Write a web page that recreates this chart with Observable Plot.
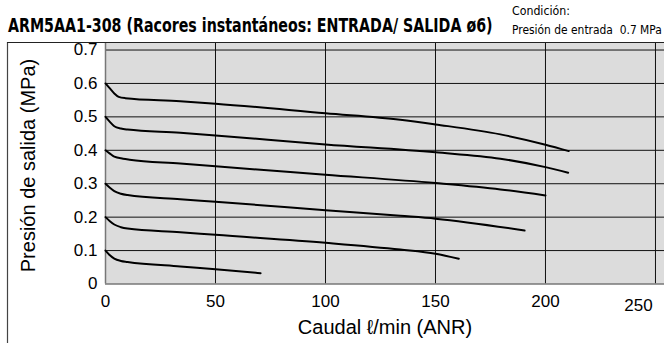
<!DOCTYPE html>
<html>
<head>
<meta charset="utf-8">
<script src="https://cdn.jsdelivr.net/npm/d3@7"></script>
<script src="https://cdn.jsdelivr.net/npm/@observablehq/plot@0.6"></script>
<style>
  html, body { margin: 0; padding: 0; background: #fff; }
  #wrap { position: relative; width: 664px; height: 343px; overflow: hidden; }
</style>
</head>
<body>
<div id="wrap"></div>
<script>
// ---- data ----
const title = "ARM5AA1-308 (Racores instantáneos: ENTRADA/ SALIDA ø6)";
const conditionLines = ["Condición:", "Presión de entrada  0.7 MPa"];
const xLabel = "Caudal ℓ/min (ANR)";
const yLabel = "Presión de salida (MPa)";
const xTicks = [0, 50, 100, 150, 200];
const xTickLast = [250];
const xGrid = [50, 100, 150, 200, 250];
const yTicks = [0, 0.1, 0.2, 0.3, 0.4, 0.5, 0.6, 0.7];
const yGrid = [0.1, 0.2, 0.3, 0.4, 0.5, 0.6, 0.7];

const q06 = [0, 2, 4, 6, 9, 34, 50, 100, 134, 150, 179.5, 200, 210.6];
const p06 = [0.6, 0.585, 0.57, 0.56, 0.556, 0.547, 0.5395, 0.511, 0.4916, 0.4775, 0.4476, 0.4168, 0.3976];
const q05 = [0, 2, 4, 7, 10, 34, 50, 100, 150, 179.5, 200, 210.3];
const p05 = [0.5, 0.485, 0.472, 0.465, 0.462, 0.4527, 0.4446, 0.4177, 0.394, 0.3749, 0.3497, 0.333];
const q04 = [0, 2, 4, 8, 11, 34, 50, 100, 150, 179.5, 200];
const p04 = [0.4, 0.39, 0.381, 0.375, 0.372, 0.3605, 0.352, 0.327, 0.302, 0.283, 0.265];
const q03 = [0, 2, 4, 7, 10, 34, 50, 100, 134, 150, 190.5];
const p03 = [0.3, 0.288, 0.278, 0.27, 0.266, 0.2535, 0.246, 0.221, 0.204, 0.1955, 0.16];
const q02 = [0, 2, 4, 7, 10, 34, 50, 100, 134, 150, 160.6];
const p02 = [0.2, 0.188, 0.178, 0.17, 0.166, 0.155, 0.147, 0.1234, 0.103, 0.0904, 0.0755];
const q01 = [0, 2, 4, 7, 10, 34, 50, 70.5];
const p01 = [0.1, 0.086, 0.076, 0.069, 0.066, 0.0524, 0.0443, 0.0323];

const series = [
  {set: "0.6", q: q06, p: p06},
  {set: "0.5", q: q05, p: p05},
  {set: "0.4", q: q04, p: p04},
  {set: "0.3", q: q03, p: p03},
  {set: "0.2", q: q02, p: p02},
  {set: "0.1", q: q01, p: p01}
];
const rows = series.flatMap(s => s.q.map((q, i) => ({set: s.set, q, p: s.p[i]})));

const W = 664, H = 343;
const chart = Plot.plot({
  width: W,
  height: H,
  marginLeft: 105,
  marginRight: 0,
  marginTop: 42,
  marginBottom: 59.5,
  style: {fontFamily: "'Liberation Sans', Arial, sans-serif", fontSize: "17px", background: "transparent", color: "#000"},
  x: {domain: [0, 254.1], label: null},
  y: {domain: [0, 0.7225], label: null},
  marks: [
    Plot.frame({fill: "#dcdcdc", stroke: null}),
    Plot.ruleY(yGrid, {stroke: "#111", strokeWidth: 1}),
    Plot.ruleX(xGrid, {stroke: "#111", strokeWidth: 1}),
    Plot.ruleY([0], {stroke: "#777", strokeWidth: 1.5}),
    Plot.ruleX([0], {stroke: "#777", strokeWidth: 1.5}),
    Plot.line(rows, {x: "q", y: "p", z: "set", stroke: "#000", strokeWidth: 2, curve: "monotone-x"}),
    Plot.axisX(xTicks, {tickSize: 0, tickPadding: 11, fontSize: 17, label: null}),
    Plot.text(xTickLast, {x: d => d, frameAnchor: "bottom", dx: -17, dy: 22, fontSize: 17, textAnchor: "middle", lineAnchor: "middle"}),
    Plot.axisY(yTicks, {tickSize: 0, tickPadding: 8, fontSize: 17, label: null, tickFormat: d => d === 0 ? "0" : d3.format(".1f")(d)})
  ]
});
document.getElementById("wrap").appendChild(chart);

const svg = d3.select(chart);
const narrow = "'Liberation Sans Narrow', 'DejaVu Sans Condensed', 'Liberation Sans', Arial, sans-serif";
// outer box (left + top)
svg.append("line").attr("x1", 7.5).attr("x2", 7.5).attr("y1", 42).attr("y2", H).attr("stroke", "#444").attr("stroke-width", 1.2);
svg.append("line").attr("x1", 7).attr("x2", W).attr("y1", 42.5).attr("y2", 42.5).attr("stroke", "#222").attr("stroke-width", 1.2);

// fitted text: natural width = target width, glyph height kept via vertical scale
function fitText(str, x, y, targetW, size, weight) {
  const t = svg.append("text").text(str)
    .attr("x", 0).attr("y", 0).attr("text-anchor", "start")
    .attr("font-family", narrow).attr("font-weight", weight).attr("font-size", size);
  const w = t.node().getComputedTextLength();
  const f = size * targetW / w;
  t.attr("font-size", f).attr("transform", `translate(${x},${y}) scale(1,${size / f})`);
  return t;
}
fitText(title, 8, 32, 485, 20, "bold");
fitText(conditionLines[0], 512, 15, 58, 13, "normal");
fitText(conditionLines[1], 512, 34, 150, 13, "normal");

// axis labels
svg.append("text").text(xLabel)
  .attr("x", 385).attr("y", 334).attr("text-anchor", "middle")
  .attr("font-family", "'Liberation Sans', Arial, sans-serif").attr("font-size", 20);
svg.append("text").text(yLabel)
  .attr("transform", "translate(35,165.5) rotate(-90)").attr("text-anchor", "middle")
  .attr("font-family", "'Liberation Sans', Arial, sans-serif").attr("font-size", 20);
</script>
</body>
</html>
